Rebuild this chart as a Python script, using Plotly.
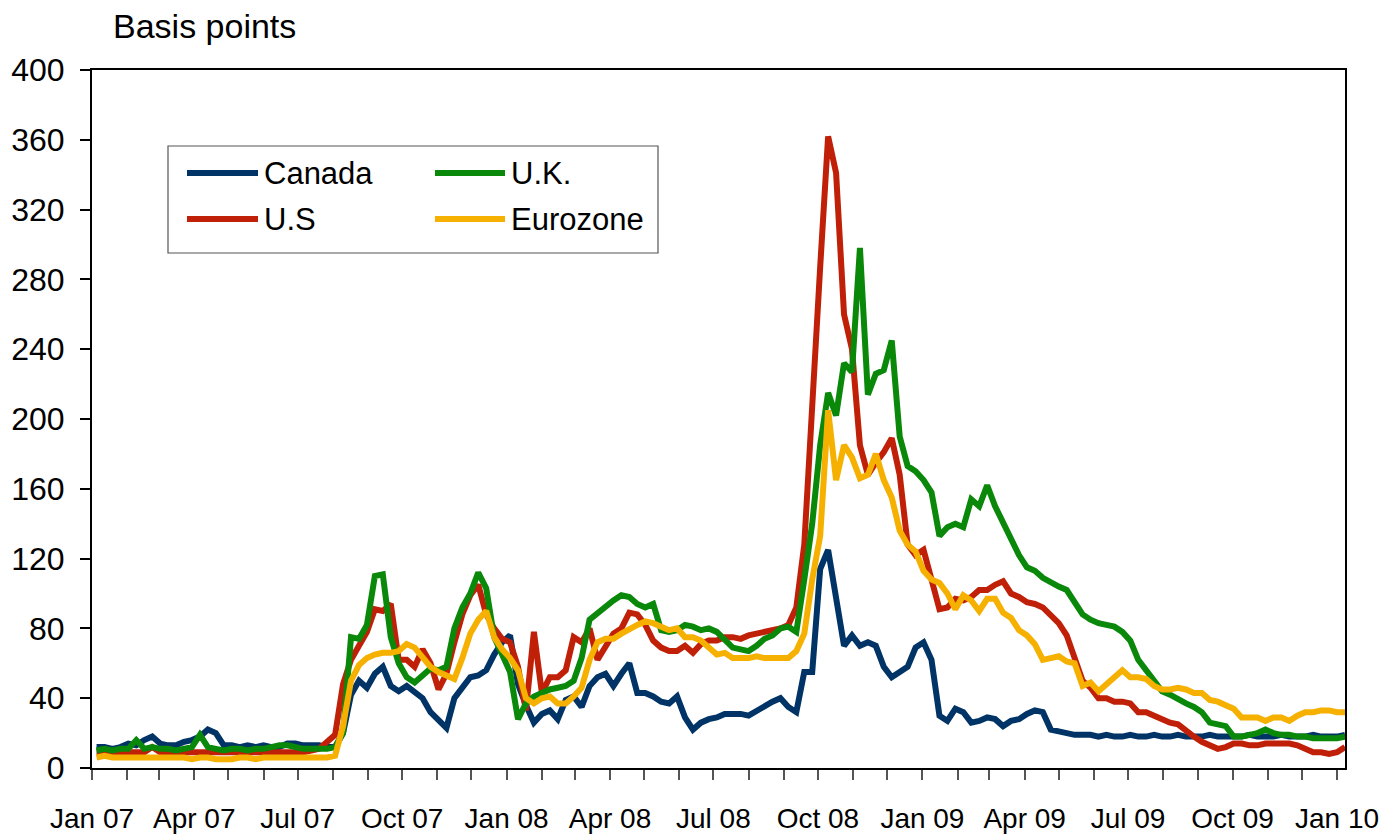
import pandas as pd
import plotly.graph_objects as go

# Weekly observation dates (Fridays), Jan 2007 - Jan 2010
WEEKS = pd.date_range("2007-01-05", periods=158, freq="7D")

CANADA = [
    12, 12, 11, 12, 14, 13, 16, 18, 14, 13,
    13, 15, 16, 18, 22, 20, 13, 13, 12, 13,
    12, 13, 12, 12, 14, 14, 13, 13, 13, 12,
    12, 20, 42, 50, 46, 54, 58, 47, 44, 47,
    44, 40, 32, 27, 23, 40, 46, 52, 53, 56,
    65, 72, 76, 48, 36, 26, 31, 33, 28, 39,
    41, 35, 47, 52, 54, 47, 54, 60, 43, 43,
    41, 38, 37, 41, 29, 22, 26, 28, 29, 31,
    31, 31, 30, 33, 36, 38, 40, 35, 32, 55,
    55, 114, 125, 98, 70, 76, 70, 72, 70, 58,
    52, 55, 58, 69, 72, 62, 30, 27, 34, 32,
    26, 27, 29, 28, 24, 27, 28, 31, 33, 32,
    22, 21, 20, 19, 19, 19, 18, 19, 18, 18,
    19, 18, 18, 19, 18, 18, 19, 18, 18, 18,
    19, 18, 18, 18, 18, 19, 18, 18, 18, 19,
    18, 18, 18, 19, 18, 18, 18, 19,
]

US = [
    9, 9, 9, 9, 9, 9, 9, 12, 9, 9,
    9, 9, 9, 9, 9, 9, 9, 9, 9, 9,
    9, 9, 9, 9, 9, 9, 9, 10, 11, 15,
    19, 48, 62, 70, 78, 91, 90, 94, 62, 62,
    58, 68, 60, 45, 54, 72, 88, 99, 105, 88,
    80, 74, 72, 58, 33, 78, 43, 52, 52, 56,
    75, 72, 80, 62, 70, 77, 80, 89, 88, 82,
    73, 69, 67, 67, 70, 66, 71, 73, 73, 75,
    75, 74, 76, 77, 78, 79, 80, 82, 92, 128,
    215, 287, 362, 341, 260, 240, 185, 168, 175, 181,
    189, 168, 128, 122, 125, 108, 91, 92, 97, 96,
    98, 102, 102, 105, 107, 100, 98, 95, 94, 92,
    88, 83, 76, 64, 50, 46, 40, 40, 38, 38,
    37, 32, 32, 30, 28, 26, 25, 21, 18, 15,
    13, 11, 12, 14, 14, 13, 13, 14, 14, 14,
    14, 13, 11, 9, 9, 8, 9, 12,
]

UK = [
    10, 11, 10, 11, 11, 16, 11, 12, 11, 11,
    10, 11, 12, 19, 12, 11, 10, 11, 11, 10,
    11, 11, 12, 13, 13, 12, 11, 11, 11, 11,
    12, 20, 75, 74, 82, 110, 111, 75, 60, 52,
    49, 53, 57, 56, 58, 80, 92, 100, 112, 103,
    75, 65, 55, 28, 37, 41, 43, 45, 46, 47,
    50, 63, 85, 89, 92, 96, 99, 98, 94, 92,
    94, 79, 78, 79, 82, 81, 79, 80, 78, 74,
    69, 68, 67, 70, 74, 76, 80, 81, 78, 108,
    140, 185, 215, 202, 232, 227, 298, 214, 226, 228,
    245, 190, 173, 170, 165, 158, 133, 138, 140, 138,
    154, 150, 162, 150, 140, 131, 122, 115, 113, 109,
    106, 104, 102, 95, 88, 85, 83, 82, 81, 78,
    73, 62, 56, 50, 44, 42, 39, 37, 35, 32,
    26, 25, 24, 18, 18, 19, 20, 22, 20, 19,
    19, 18, 18, 17, 17, 17, 17, 18,
]

EUROZONE = [
    6, 7, 6, 6, 6, 6, 6, 6, 6, 6,
    6, 6, 5, 6, 6, 5, 5, 5, 6, 6,
    5, 6, 6, 6, 6, 6, 6, 6, 6, 6,
    7, 24, 50, 59, 63, 65, 66, 66, 67, 71,
    69, 64, 58, 55, 53, 51, 63, 77, 85, 90,
    75, 68, 63, 56, 40, 37, 40, 41, 37, 37,
    41, 46, 62, 72, 74, 74, 77, 80, 82, 84,
    83, 81, 79, 80, 75, 75, 73, 69, 65, 66,
    63, 63, 63, 64, 63, 63, 63, 63, 67, 77,
    108, 133, 205, 165, 185, 178, 166, 168, 180, 165,
    155, 136, 128, 124, 113, 108, 106, 100, 91, 99,
    96, 90, 97, 97, 89, 86, 79, 76, 71, 62,
    63, 64, 61, 60, 47, 49, 44, 48, 51, 56,
    52, 52, 51, 47, 45, 45, 46, 45, 43, 43,
    39, 38, 36, 34, 29, 29, 29, 27, 29, 29,
    27, 30, 32, 32, 33, 33, 32, 32,
]

SERIES = [
    ("Canada", CANADA, "#003366"),
    ("U.S", US, "#C02008"),
    ("U.K.", UK, "#0A880A"),
    ("Eurozone", EUROZONE, "#F5B000"),
]

LEGEND_ROWS = [
    [("Canada", "#003366"), ("U.K.", "#0A880A")],
    [("U.S", "#C02008"), ("Eurozone", "#F5B000")],
]

Y_TICKS = list(range(0, 401, 40))

FONT = "Liberation Sans, Arial, sans-serif"
W, H = 1382, 837
# plot area in page pixels
PL, PR, PT, PB = 92, 1345, 70, 768


def px(xp):
    return (xp - PL) / (PR - PL)


def py(yp):
    return (PB - yp) / (PB - PT)


fig = go.Figure()
for name, vals, col in SERIES:
    fig.add_trace(go.Scatter(
        x=WEEKS, y=vals, name=name, mode="lines",
        line=dict(color=col, width=6), showlegend=False,
    ))

shapes = [dict(type="rect", xref="paper", yref="paper",
               x0=px(168), x1=px(658), y0=py(253), y1=py(146),
               line=dict(color="#555555", width=1.2), fillcolor="white", layer="below")]
annotations = []
row_y = [173, 219]
col_x = [(187, 258, 262), (435, 505, 509)]
for r, row in enumerate(LEGEND_ROWS):
    for c, (label, col) in enumerate(row):
        x0, x1, xt = col_x[c]
        shapes.append(dict(type="line", xref="paper", yref="paper",
                           x0=px(x0), x1=px(x1), y0=py(row_y[r]), y1=py(row_y[r]),
                           line=dict(color=col, width=6)))
        annotations.append(dict(xref="paper", yref="paper", x=px(xt), y=py(row_y[r]),
                                text=label, showarrow=False, xanchor="left", yanchor="middle",
                                font=dict(family=FONT, size=31, color="black")))

annotations.append(dict(xref="paper", yref="paper", x=px(111), y=py(26),
                        text="Basis points", showarrow=False, xanchor="left", yanchor="middle",
                        font=dict(family=FONT, size=34, color="black")))

fig.update_layout(
    width=W, height=H,
    margin=dict(l=PL, r=W - PR, t=PT, b=H - PB, autoexpand=False),
    paper_bgcolor="white", plot_bgcolor="white",
    font=dict(family=FONT, size=32, color="black"),
    shapes=shapes, annotations=annotations,
    showlegend=False,
)
fig.update_xaxes(
    range=["2007-01-01", "2010-01-08"],
    tick0="2007-01-01", dtick="M3", tickformat="%b %y", tickangle=0,
    ticks="outside", ticklen=10, tickwidth=2, tickcolor="#555555",
    minor=dict(dtick="M1", ticks="outside", ticklen=10, tickwidth=2, tickcolor="#555555", showgrid=False),
    showline=True, linecolor="black", linewidth=2, mirror=True,
    showgrid=False, zeroline=False, ticklabelstandoff=14, automargin=False,
    tickfont=dict(family=FONT, size=28, color="black"),
)
fig.update_yaxes(
    range=[0, 400], tickvals=Y_TICKS,
    ticks="outside", ticklen=10, tickwidth=2, tickcolor="black",
    showline=True, linecolor="black", linewidth=2, mirror=True,
    showgrid=False, zeroline=False, ticklabelstandoff=9, automargin=False,
    tickfont=dict(family=FONT, size=32, color="black"),
)

fig.write_html(
    "out.html",
    config={"displayModeBar": False},
    post_script="document.body.style.margin='0';document.body.style.overflow='hidden';",
)
